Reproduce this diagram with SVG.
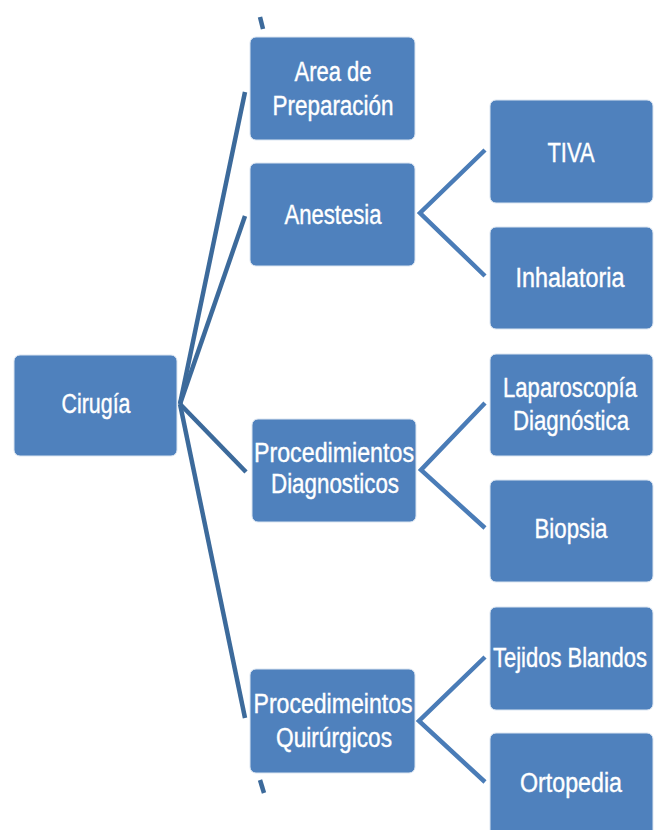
<svg xmlns="http://www.w3.org/2000/svg" width="654" height="830" viewBox="0 0 654 830">
<style>
.box{fill:#4f81bd;stroke:#dbe5f1;stroke-width:1}
.t{font-family:"Liberation Sans",Arial,sans-serif;font-size:27px;fill:#ffffff;stroke:#ffffff;stroke-width:0.4;text-anchor:middle}
.main{stroke:#3c6a9b;stroke-width:4.5;fill:none;stroke-linecap:butt}
.sub{stroke:#4a7cb7;stroke-width:4.5;fill:none;stroke-linejoin:miter}
</style>
<rect width="654" height="830" fill="#ffffff"/>
<g id="connectors">
<line class="main" x1="180" y1="404" x2="245" y2="92"/>
<line class="main" x1="260" y1="17" x2="263" y2="29"/>
<line class="main" x1="180" y1="404" x2="245" y2="216"/>
<line class="main" x1="180" y1="404" x2="246" y2="472"/>
<line class="main" x1="180" y1="404" x2="245" y2="718"/>
<line class="main" x1="260" y1="780" x2="264" y2="793"/>
<polyline class="sub" points="485,150 420,213 485,276"/>
<polyline class="sub" points="485,403 421,470 485,528"/>
<polyline class="sub" points="485,657 419,721 485,782"/>
</g>
<g id="cirugia"><rect class="box" x="14" y="355" width="163" height="101" rx="6"/><text class="t" x="96" y="413" textLength="69" lengthAdjust="spacingAndGlyphs">Cirugía</text></g>
<g id="area"><rect class="box" x="250" y="37" width="165" height="103" rx="6"/><text class="t" x="333" y="81" textLength="77" lengthAdjust="spacingAndGlyphs">Area de</text><text class="t" x="333" y="115" textLength="121" lengthAdjust="spacingAndGlyphs">Preparación</text></g>
<g id="anestesia"><rect class="box" x="250" y="163" width="165" height="103" rx="6"/><text class="t" x="333" y="224" textLength="97" lengthAdjust="spacingAndGlyphs">Anestesia</text></g>
<g id="diag"><rect class="box" x="252" y="419" width="164" height="103" rx="6"/><text class="t" x="334" y="462" textLength="160" lengthAdjust="spacingAndGlyphs">Procedimientos</text><text class="t" x="335" y="493" textLength="128" lengthAdjust="spacingAndGlyphs">Diagnosticos</text></g>
<g id="quir"><rect class="box" x="250" y="669" width="165" height="104" rx="6"/><text class="t" x="333" y="713" textLength="159" lengthAdjust="spacingAndGlyphs">Procedimeintos</text><text class="t" x="334" y="747" textLength="116" lengthAdjust="spacingAndGlyphs">Quirúrgicos</text></g>
<g id="tiva"><rect class="box" x="490" y="100" width="163" height="103" rx="6"/><text class="t" x="571" y="162" textLength="47" lengthAdjust="spacingAndGlyphs">TIVA</text></g>
<g id="inhalatoria"><rect class="box" x="490" y="227" width="163" height="102" rx="6"/><text class="t" x="570" y="287" textLength="109" lengthAdjust="spacingAndGlyphs">Inhalatoria</text></g>
<g id="laparoscopia"><rect class="box" x="490" y="354" width="163" height="102" rx="6"/><text class="t" x="570" y="397" textLength="134" lengthAdjust="spacingAndGlyphs">Laparoscopía</text><text class="t" x="571" y="430" textLength="116" lengthAdjust="spacingAndGlyphs">Diagnóstica</text></g>
<g id="biopsia"><rect class="box" x="490" y="480" width="163" height="102" rx="6"/><text class="t" x="571" y="538" textLength="73" lengthAdjust="spacingAndGlyphs">Biopsia</text></g>
<g id="tejidos"><rect class="box" x="490" y="607" width="163" height="103" rx="6"/><text class="t" x="570" y="667" textLength="154" lengthAdjust="spacingAndGlyphs">Tejidos Blandos</text></g>
<g id="ortopedia"><rect class="box" x="490" y="733" width="163" height="104" rx="6"/><text class="t" x="571" y="792" textLength="102" lengthAdjust="spacingAndGlyphs">Ortopedia</text></g>
</svg>
